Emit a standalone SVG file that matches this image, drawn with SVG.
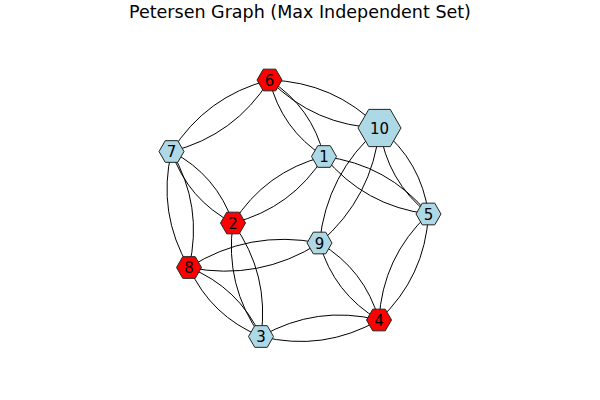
<svg xmlns="http://www.w3.org/2000/svg" width="600" height="400" viewBox="0 0 600 400">
<style>
.e{fill:none;stroke:#000;stroke-width:1}
.n{stroke:#222;stroke-width:1}
.b{fill:#add8e6}
.r{fill:#ff0000}
.t{font-family:"DejaVu Sans",sans-serif;font-size:15px;text-anchor:middle;fill:#000}
.title{font-family:"DejaVu Sans",sans-serif;font-size:17.5px;text-anchor:middle;fill:#000}
</style>
<defs>
<polygon id="hs" points="12.5,0 6.25,10.83 -6.25,10.83 -12.5,0 -6.25,-10.83 6.25,-10.83"/>
<polygon id="hl" points="21.5,0 10.75,18.62 -10.75,18.62 -21.5,0 -10.75,-18.62 10.75,-18.62"/>
</defs>
<rect width="600" height="400" fill="#fff"/>
<text class="title" x="300" y="18">Petersen Graph (Max Independent Set)</text>
<g id="edges">
<path class="e" d="M269.5,80 Q234.8,135.35 171.5,151.5"/>
<path class="e" d="M269.5,80 Q206.2,96.15 171.5,151.5"/>
<path class="e" d="M269.5,80 Q334.1,82 379.5,128"/>
<path class="e" d="M269.5,80 Q314.9,126 379.5,128"/>
<path class="e" d="M269.5,80 Q312.05,107.35 324,156.5"/>
<path class="e" d="M269.5,80 Q281.45,129.15 324,156.5"/>
<path class="e" d="M171.5,151.5 Q216.55,174.95 233,223"/>
<path class="e" d="M171.5,151.5 Q187.95,199.55 233,223"/>
<path class="e" d="M171.5,151.5 Q203.45,206 189,267.5"/>
<path class="e" d="M171.5,151.5 Q157.05,213 189,267.5"/>
<path class="e" d="M324,156.5 Q291.8,207.95 233,223"/>
<path class="e" d="M324,156.5 Q265.2,171.55 233,223"/>
<path class="e" d="M324,156.5 Q387.75,164.35 428.5,214"/>
<path class="e" d="M324,156.5 Q364.75,206.15 428.5,214"/>
<path class="e" d="M379.5,128 Q421.2,161.2 428.5,214"/>
<path class="e" d="M379.5,128 Q386.8,180.8 428.5,214"/>
<path class="e" d="M379.5,128 Q372.5,197.5 319.5,243"/>
<path class="e" d="M379.5,128 Q326.5,173.5 319.5,243"/>
<path class="e" d="M233,223 Q269.7,274.15 261,336.5"/>
<path class="e" d="M233,223 Q224.3,285.35 261,336.5"/>
<path class="e" d="M189,267.5 Q249.35,229.15 319.5,243"/>
<path class="e" d="M189,267.5 Q259.15,281.35 319.5,243"/>
<path class="e" d="M189,267.5 Q238.8,287.6 261,336.5"/>
<path class="e" d="M189,267.5 Q211.2,316.4 261,336.5"/>
<path class="e" d="M319.5,243 Q364.65,269.6 379,320"/>
<path class="e" d="M319.5,243 Q333.85,293.4 379,320"/>
<path class="e" d="M428.5,214 Q424.95,276.9 379,320"/>
<path class="e" d="M428.5,214 Q382.55,257.1 379,320"/>
<path class="e" d="M261,336.5 Q316.7,304.65 379,320"/>
<path class="e" d="M261,336.5 Q323.3,351.85 379,320"/>
</g>
<g id="node1"><use href="#hs" class="n b" x="324" y="156.5"/><text class="t" x="324" y="162">1</text></g>
<g id="node2"><use href="#hs" class="n r" x="233" y="223"/><text class="t" x="233" y="228.5">2</text></g>
<g id="node3"><use href="#hs" class="n b" x="261" y="336.5"/><text class="t" x="261" y="342">3</text></g>
<g id="node4"><use href="#hs" class="n r" x="379" y="320"/><text class="t" x="379" y="325.5">4</text></g>
<g id="node5"><use href="#hs" class="n b" x="428.5" y="214"/><text class="t" x="428.5" y="219.5">5</text></g>
<g id="node6"><use href="#hs" class="n r" x="269.5" y="80"/><text class="t" x="269.5" y="85.5">6</text></g>
<g id="node7"><use href="#hs" class="n b" x="171.5" y="151.5"/><text class="t" x="171.5" y="157">7</text></g>
<g id="node8"><use href="#hs" class="n r" x="189" y="267.5"/><text class="t" x="189" y="273">8</text></g>
<g id="node9"><use href="#hs" class="n b" x="319.5" y="243"/><text class="t" x="319.5" y="248.5">9</text></g>
<g id="node10"><use href="#hl" class="n b" x="379.5" y="128"/><text class="t" x="379.5" y="133.5">10</text></g>
</svg>
